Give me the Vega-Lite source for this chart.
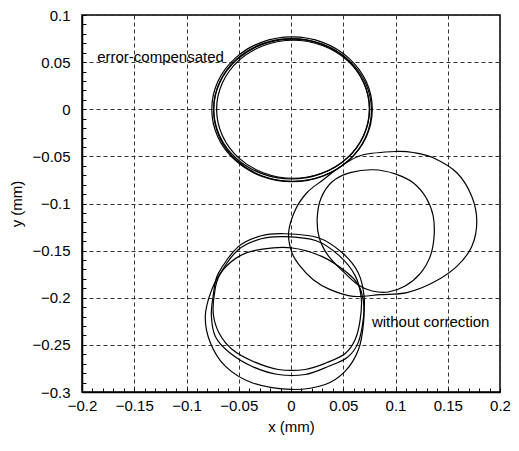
{
  "$schema": "https://vega.github.io/schema/vega-lite/v6.json",
  "width": 418,
  "height": 377,
  "autosize": {"type": "none"},
  "padding": {"left": 82, "top": 15, "right": 19, "bottom": 59},
  "background": "white",
  "config": {"view": {"stroke": "black", "strokeWidth": 1.5}, "font": "Liberation Sans"},
  "datasets": {
    "traces": [
      {"loop":"E1","i":0,"x":0.0778,"y":0},
      {"loop":"E1","i":1,"x":0.0720,"y":0.0294},
      {"loop":"E1","i":2,"x":0.0553,"y":0.0543},
      {"loop":"E1","i":3,"x":0.0304,"y":0.0710},
      {"loop":"E1","i":4,"x":0.001,"y":0.0768},
      {"loop":"E1","i":5,"x":-0.0284,"y":0.0710},
      {"loop":"E1","i":6,"x":-0.0533,"y":0.0543},
      {"loop":"E1","i":7,"x":-0.0700,"y":0.0294},
      {"loop":"E1","i":8,"x":-0.0758,"y":0},
      {"loop":"E1","i":9,"x":-0.0700,"y":-0.0294},
      {"loop":"E1","i":10,"x":-0.0533,"y":-0.0543},
      {"loop":"E1","i":11,"x":-0.0284,"y":-0.0710},
      {"loop":"E1","i":12,"x":0.001,"y":-0.0768},
      {"loop":"E1","i":13,"x":0.0304,"y":-0.0710},
      {"loop":"E1","i":14,"x":0.0553,"y":-0.0543},
      {"loop":"E1","i":15,"x":0.0720,"y":-0.0294},
      {"loop":"E2","i":0,"x":0.0770,"y":-0.001},
      {"loop":"E2","i":1,"x":0.0713,"y":0.0279},
      {"loop":"E2","i":2,"x":0.0549,"y":0.0524},
      {"loop":"E2","i":3,"x":0.0304,"y":0.0688},
      {"loop":"E2","i":4,"x":0.0015,"y":0.0745},
      {"loop":"E2","i":5,"x":-0.0274,"y":0.0688},
      {"loop":"E2","i":6,"x":-0.0519,"y":0.0524},
      {"loop":"E2","i":7,"x":-0.0683,"y":0.0279},
      {"loop":"E2","i":8,"x":-0.0740,"y":-0.001},
      {"loop":"E2","i":9,"x":-0.0683,"y":-0.0299},
      {"loop":"E2","i":10,"x":-0.0519,"y":-0.0544},
      {"loop":"E2","i":11,"x":-0.0274,"y":-0.0708},
      {"loop":"E2","i":12,"x":0.0015,"y":-0.0765},
      {"loop":"E2","i":13,"x":0.0304,"y":-0.0708},
      {"loop":"E2","i":14,"x":0.0549,"y":-0.0544},
      {"loop":"E2","i":15,"x":0.0713,"y":-0.0299},
      {"loop":"E3","i":0,"x":0.0750,"y":0.0005},
      {"loop":"E3","i":1,"x":0.0693,"y":0.0290},
      {"loop":"E3","i":2,"x":0.0532,"y":0.0532},
      {"loop":"E3","i":3,"x":0.0290,"y":0.0693},
      {"loop":"E3","i":4,"x":0.0005,"y":0.0750},
      {"loop":"E3","i":5,"x":-0.0280,"y":0.0693},
      {"loop":"E3","i":6,"x":-0.0522,"y":0.0532},
      {"loop":"E3","i":7,"x":-0.0683,"y":0.0290},
      {"loop":"E3","i":8,"x":-0.0740,"y":0.0005},
      {"loop":"E3","i":9,"x":-0.0683,"y":-0.0280},
      {"loop":"E3","i":10,"x":-0.0522,"y":-0.0522},
      {"loop":"E3","i":11,"x":-0.0280,"y":-0.0683},
      {"loop":"E3","i":12,"x":0.0005,"y":-0.0740},
      {"loop":"E3","i":13,"x":0.0290,"y":-0.0683},
      {"loop":"E3","i":14,"x":0.0532,"y":-0.0522},
      {"loop":"E3","i":15,"x":0.0693,"y":-0.0280},
      {"loop":"E4","i":0,"x":0.0752,"y":0},
      {"loop":"E4","i":1,"x":0.0696,"y":0.0280},
      {"loop":"E4","i":2,"x":0.0538,"y":0.0518},
      {"loop":"E4","i":3,"x":0.0300,"y":0.0676},
      {"loop":"E4","i":4,"x":0.002,"y":0.0732},
      {"loop":"E4","i":5,"x":-0.0260,"y":0.0676},
      {"loop":"E4","i":6,"x":-0.0498,"y":0.0518},
      {"loop":"E4","i":7,"x":-0.0656,"y":0.0280},
      {"loop":"E4","i":8,"x":-0.0712,"y":0},
      {"loop":"E4","i":9,"x":-0.0656,"y":-0.0280},
      {"loop":"E4","i":10,"x":-0.0498,"y":-0.0518},
      {"loop":"E4","i":11,"x":-0.0260,"y":-0.0676},
      {"loop":"E4","i":12,"x":0.002,"y":-0.0732},
      {"loop":"E4","i":13,"x":0.0300,"y":-0.0676},
      {"loop":"E4","i":14,"x":0.0538,"y":-0.0518},
      {"loop":"E4","i":15,"x":0.0696,"y":-0.0280},
      {"loop":"L1","i":0,"x":-0.0820,"y":-0.2197},
      {"loop":"L1","i":1,"x":-0.0772,"y":-0.2478},
      {"loop":"L1","i":2,"x":-0.0629,"y":-0.2726},
      {"loop":"L1","i":3,"x":-0.0373,"y":-0.2902},
      {"loop":"L1","i":4,"x":0.0009,"y":-0.2973},
      {"loop":"L1","i":5,"x":0.0327,"y":-0.2920},
      {"loop":"L1","i":6,"x":0.0519,"y":-0.2779},
      {"loop":"L1","i":7,"x":0.0646,"y":-0.2549},
      {"loop":"L1","i":8,"x":0.0694,"y":-0.2266},
      {"loop":"L1","i":9,"x":0.0691,"y":-0.2020},
      {"loop":"L1","i":10,"x":0.0643,"y":-0.1861},
      {"loop":"L1","i":11,"x":0.0538,"y":-0.1734},
      {"loop":"L1","i":12,"x":0.0299,"y":-0.1564},
      {"loop":"L1","i":13,"x":0.0012,"y":-0.1472},
      {"loop":"L1","i":14,"x":-0.0275,"y":-0.1484},
      {"loop":"L1","i":15,"x":-0.0485,"y":-0.1553},
      {"loop":"L1","i":16,"x":-0.0648,"y":-0.1702},
      {"loop":"L1","i":17,"x":-0.0758,"y":-0.1914},
      {"loop":"L2","i":0,"x":-0.0055,"y":-0.1321},
      {"loop":"L2","i":1,"x":0.0261,"y":-0.1363},
      {"loop":"L2","i":2,"x":0.0490,"y":-0.1522},
      {"loop":"L2","i":3,"x":0.0643,"y":-0.1734},
      {"loop":"L2","i":4,"x":0.0700,"y":-0.1988},
      {"loop":"L2","i":5,"x":0.0691,"y":-0.2232},
      {"loop":"L2","i":6,"x":0.0643,"y":-0.2476},
      {"loop":"L2","i":7,"x":0.0538,"y":-0.2634},
      {"loop":"L2","i":8,"x":0.0356,"y":-0.2729},
      {"loop":"L2","i":9,"x":0.0136,"y":-0.2814},
      {"loop":"L2","i":10,"x":-0.0122,"y":-0.2814},
      {"loop":"L2","i":11,"x":-0.0371,"y":-0.2729},
      {"loop":"L2","i":12,"x":-0.0590,"y":-0.2581},
      {"loop":"L2","i":13,"x":-0.0724,"y":-0.2412},
      {"loop":"L2","i":14,"x":-0.0762,"y":-0.2189},
      {"loop":"L2","i":15,"x":-0.0743,"y":-0.1967},
      {"loop":"L2","i":16,"x":-0.0696,"y":-0.1744},
      {"loop":"L2","i":17,"x":-0.0504,"y":-0.1458},
      {"loop":"L2","i":18,"x":-0.0284,"y":-0.1342},
      {"loop":"L3","i":0,"x":-0.0055,"y":-0.1352},
      {"loop":"L3","i":1,"x":0.0241,"y":-0.1395},
      {"loop":"L3","i":2,"x":0.0461,"y":-0.1553},
      {"loop":"L3","i":3,"x":0.0614,"y":-0.1765},
      {"loop":"L3","i":4,"x":0.0672,"y":-0.1998},
      {"loop":"L3","i":5,"x":0.0662,"y":-0.2232},
      {"loop":"L3","i":6,"x":0.0614,"y":-0.2444},
      {"loop":"L3","i":7,"x":0.0519,"y":-0.2592},
      {"loop":"L3","i":8,"x":0.0347,"y":-0.2687},
      {"loop":"L3","i":9,"x":0.0136,"y":-0.2761},
      {"loop":"L3","i":10,"x":-0.0122,"y":-0.2761},
      {"loop":"L3","i":11,"x":-0.0361,"y":-0.2676},
      {"loop":"L3","i":12,"x":-0.0562,"y":-0.2549},
      {"loop":"L3","i":13,"x":-0.0686,"y":-0.2380},
      {"loop":"L3","i":14,"x":-0.0743,"y":-0.2178},
      {"loop":"L3","i":15,"x":-0.0734,"y":-0.1967},
      {"loop":"L3","i":16,"x":-0.0686,"y":-0.1765},
      {"loop":"L3","i":17,"x":-0.0504,"y":-0.1490},
      {"loop":"L3","i":18,"x":-0.0284,"y":-0.1374},
      {"loop":"R1","i":0,"x":0.1013,"y":-0.0448},
      {"loop":"R1","i":1,"x":0.1169,"y":-0.0459},
      {"loop":"R1","i":2,"x":0.1360,"y":-0.0515},
      {"loop":"R1","i":3,"x":0.1587,"y":-0.0674},
      {"loop":"R1","i":4,"x":0.1730,"y":-0.0925},
      {"loop":"R1","i":5,"x":0.1778,"y":-0.1190},
      {"loop":"R1","i":6,"x":0.1730,"y":-0.1455},
      {"loop":"R1","i":7,"x":0.1587,"y":-0.1667},
      {"loop":"R1","i":8,"x":0.1360,"y":-0.1839},
      {"loop":"R1","i":9,"x":0.1109,"y":-0.1945},
      {"loop":"R1","i":10,"x":0.0853,"y":-0.1967},
      {"loop":"R1","i":11,"x":0.0595,"y":-0.1985},
      {"loop":"R1","i":12,"x":0.0375,"y":-0.1914},
      {"loop":"R1","i":13,"x":0.0213,"y":-0.1808},
      {"loop":"R1","i":14,"x":0.0089,"y":-0.1667},
      {"loop":"R1","i":15,"x":0.0009,"y":-0.1522},
      {"loop":"R1","i":16,"x":-0.0023,"y":-0.1310},
      {"loop":"R1","i":17,"x":0.0041,"y":-0.1068},
      {"loop":"R1","i":18,"x":0.0152,"y":-0.0886},
      {"loop":"R1","i":19,"x":0.0308,"y":-0.0748},
      {"loop":"R1","i":20,"x":0.0500,"y":-0.0589},
      {"loop":"R1","i":21,"x":0.0691,"y":-0.0483},
      {"loop":"R2","i":0,"x":0.0786,"y":-0.0642},
      {"loop":"R2","i":1,"x":0.0997,"y":-0.0685},
      {"loop":"R2","i":2,"x":0.1169,"y":-0.0780},
      {"loop":"R2","i":3,"x":0.1293,"y":-0.0939},
      {"loop":"R2","i":4,"x":0.1360,"y":-0.1130},
      {"loop":"R2","i":5,"x":0.1369,"y":-0.1352},
      {"loop":"R2","i":6,"x":0.1331,"y":-0.1564},
      {"loop":"R2","i":7,"x":0.1236,"y":-0.1744},
      {"loop":"R2","i":8,"x":0.1092,"y":-0.1875},
      {"loop":"R2","i":9,"x":0.0930,"y":-0.1939},
      {"loop":"R2","i":10,"x":0.0777,"y":-0.1928},
      {"loop":"R2","i":11,"x":0.0643,"y":-0.1865},
      {"loop":"R2","i":12,"x":0.0500,"y":-0.1723},
      {"loop":"R2","i":13,"x":0.0356,"y":-0.1553},
      {"loop":"R2","i":14,"x":0.0270,"y":-0.1363},
      {"loop":"R2","i":15,"x":0.0251,"y":-0.1151},
      {"loop":"R2","i":16,"x":0.0289,"y":-0.0939},
      {"loop":"R2","i":17,"x":0.0394,"y":-0.0769},
      {"loop":"R2","i":18,"x":0.0567,"y":-0.0673}
    ],
    "notes": [
      {"label": "error-compensated", "x": -0.1855, "y": 0.0505},
      {"label": "without correction", "x": 0.0774, "y": -0.2313}
    ]
  },
  "encoding": {
    "x": {
      "field": "x", "type": "quantitative",
      "scale": {"domain": [-0.2, 0.2], "nice": false, "zero": false},
      "axis": {
        "title": "x (mm)",
        "values": [-0.2,-0.19,-0.18,-0.17,-0.16,-0.15,-0.14,-0.13,-0.12,-0.11,-0.1,-0.09,-0.08,-0.07,-0.06,-0.05,-0.04,-0.03,-0.02,-0.01,0,0.01,0.02,0.03,0.04,0.05,0.06,0.07,0.08,0.09,0.1,0.11,0.12,0.13,0.14,0.15,0.16,0.17,0.18,0.19,0.2],
        "labelExpr": "abs(datum.value*20-round(datum.value*20))<0.01 ? format(datum.value,'~g') : ''",
        "labelOverlap": false, "labelFlush": false, "labelBound": false,
        "tickSize": -4, "tickColor": "black", "tickWidth": 1,
        "grid": true, "gridDash": [4, 3], "gridColor": "#333333", "gridWidth": 1,
        "gridOpacity": {"condition": {"test": "abs(datum.value*20-round(datum.value*20))<0.01", "value": 1}, "value": 0},
        "domainColor": "black", "domainWidth": 1.5,
        "labelFontSize": 15, "labelColor": "black", "labelPadding": 10,
        "titleFontSize": 15, "titleFontWeight": "normal", "titleColor": "black", "titlePadding": 6
      }
    },
    "y": {
      "field": "y", "type": "quantitative",
      "scale": {"domain": [-0.3, 0.1], "nice": false, "zero": false},
      "axis": {
        "title": "y (mm)",
        "values": [-0.3,-0.29,-0.28,-0.27,-0.26,-0.25,-0.24,-0.23,-0.22,-0.21,-0.2,-0.19,-0.18,-0.17,-0.16,-0.15,-0.14,-0.13,-0.12,-0.11,-0.1,-0.09,-0.08,-0.07,-0.06,-0.05,-0.04,-0.03,-0.02,-0.01,0,0.01,0.02,0.03,0.04,0.05,0.06,0.07,0.08,0.09,0.1],
        "labelExpr": "abs(datum.value*20-round(datum.value*20))<0.01 ? format(datum.value,'~g') : ''",
        "labelOverlap": false, "labelFlush": false, "labelBound": false,
        "tickSize": -4, "tickColor": "black", "tickWidth": 1,
        "grid": true, "gridDash": [4, 3], "gridColor": "#333333", "gridWidth": 1,
        "gridOpacity": {"condition": {"test": "abs(datum.value*20-round(datum.value*20))<0.01", "value": 1}, "value": 0},
        "domainColor": "black", "domainWidth": 1.5,
        "labelFontSize": 15, "labelColor": "black", "labelPadding": 16,
        "titleFontSize": 15, "titleFontWeight": "normal", "titleColor": "black", "titlePadding": 8
      }
    }
  },
  "layer": [
    {
      "data": {"name": "traces"},
      "mark": {"type": "line", "interpolate": "cardinal-closed", "color": "black", "strokeWidth": 1.2},
      "encoding": {
        "detail": {"field": "loop", "type": "nominal"},
        "order": {"field": "i", "type": "quantitative"}
      }
    },
    {
      "data": {"name": "notes"},
      "mark": {"type": "text", "align": "left", "baseline": "alphabetic", "fontSize": 15, "color": "black"},
      "encoding": {
        "text": {"field": "label", "type": "nominal"}
      }
    }
  ]
}
